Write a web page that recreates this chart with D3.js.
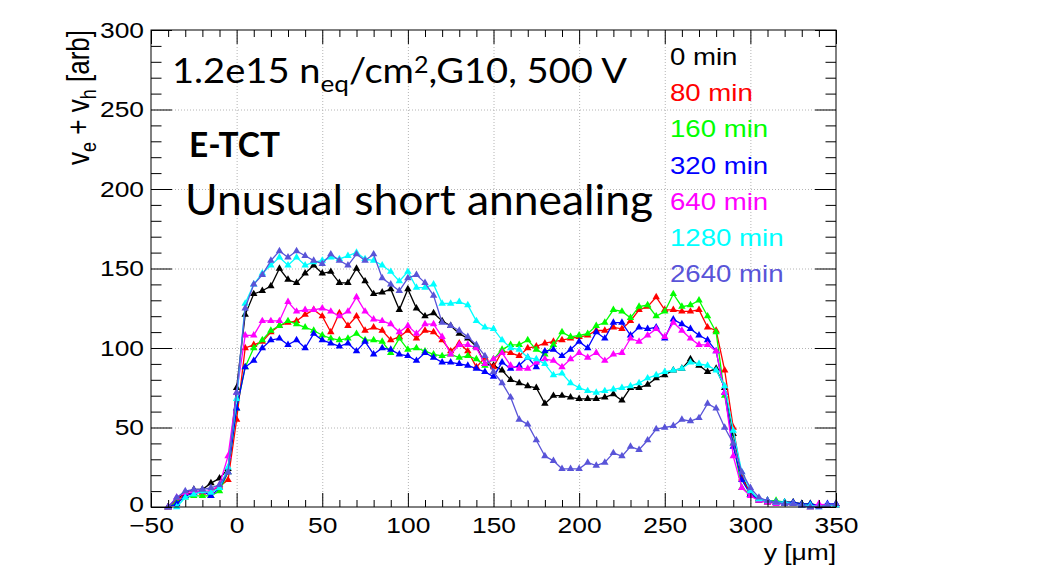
<!DOCTYPE html>
<html>
<head>
<meta charset="UTF-8">
<style>
body{
	margin: 0;
	background: #fff;
}
svg{
	display: block;
}
.axis path{
	display: none;
}
.axis line{
	stroke: #000;
	stroke-width: 1;
}
.axis text{
	font-family: "Liberation Sans", Arial, sans-serif;
	font-size: 22px;
	fill: #000;
}
.grid path{
	display: none;
}
.grid line{
	stroke: #b4b4b4;
	stroke-width: 1;
	stroke-dasharray: 1,2;
}
.frame{
	fill: none;
	stroke: #000;
	stroke-width: 1;
}
.curve{
	fill: none;
	stroke-width: 1.3;
}
.legend text, .axis-title{
	font-family: "Liberation Sans", Arial, sans-serif;
}
.note{
	font-family: Lato, "Open Sans", sans-serif;
	fill: #000;
}
</style>
<script src="https://d3js.org/d3.v7.min.js"></script>
</head>
<body>
<script>
// scan positions in um
var yPos = [-40,-35,-30,-25,-20,-15,-10,-5,
	0,5,10,15,20,25,30,35,40,45,
	50,55,60,65,70,75,80,85,90,95,
	100,105,110,115,120,125,130,135,140,145,
	150,155,160,165,170,175,180,185,190,195,
	200,205,210,215,220,225,230,235,240,245,
	250,255,260,265,270,275,280,285,290,295,
	300,305,310,315,320,325,330,335,340,345,350];

var names = ["0 min", "80 min", "160 min", "320 min", "640 min", "1280 min", "2640 min"];
var colors = ["#000000", "#ff0000", "#00ff00", "#0000ff", "#ff00ff", "#00ffff", "#5954d8"];

var v0 = [0,5,9,11,11,15,18,24,
	75,121,134,136,139,150,143,141,147,152,
	147,148,141,141,150,142,134,135,137,124,
	137,125,120,122,117,114,109,106,101,90,
	89,86,80,78,76,75,65,70,70,69,
	68,68,68,69,71,67,75,75,77,81,
	83,86,87,93,89,85,87,75,46,20,
	8,4,3,3,2,2,1,0,1,1,2];
var v80 = [0,4,8,9,9,10,13,17,
	55,100,102,104,110,114,116,117,121,124,
	120,110,122,114,120,111,113,111,105,107,
	111,106,111,110,105,98,103,98,88,94,
	88,98,97,95,100,101,103,104,105,106,
	107,108,111,111,113,112,117,124,126,132,
	124,124,123,123,124,113,111,86,50,18,
	9,5,4,3,3,3,2,2,1,1,1];
var v160 = [0,3,6,7,7,7,10,22,
	62,88,100,105,111,114,117,115,113,111,
	108,106,105,106,109,105,105,104,97,106,
	99,100,98,96,95,96,94,95,93,89,
	93,99,102,102,105,99,96,102,110,107,
	108,109,114,116,124,123,119,126,127,120,
	123,134,126,127,130,120,110,70,40,12,
	8,5,4,4,3,3,2,2,1,1,1];
var v320 = [0,2,7,9,10,7,12,22,
	62,88,92,100,105,106,102,105,100,109,
	105,103,101,103,98,104,96,100,99,96,
	95,92,97,94,91,91,90,89,87,85,
	82,91,87,89,94,88,98,99,95,99,
	104,100,110,106,116,116,108,113,112,113,
	106,118,115,112,108,105,98,72,38,17,
	8,5,4,3,3,3,2,2,1,2,2];
var v640 = [0,6,9,10,10,10,14,32,
	72,108,108,117,117,117,129,123,124,124,
	125,123,120,123,132,123,118,117,115,110,
	114,109,115,115,107,96,102,102,100,90,
	93,97,89,87,87,91,93,92,88,93,
	97,94,97,92,96,97,106,104,108,112,
	107,116,111,106,102,102,98,72,32,12,
	7,4,3,2,2,2,1,0,2,1,1];
var v1280 = [null,0,6,8,10,9,12,25,
	68,128,140,147,152,157,152,157,152,154,
	155,157,156,158,160,156,155,152,148,142,
	148,138,138,140,128,128,129,127,117,113,
	112,105,100,99,94,93,90,83,84,78,
	75,73,72,73,74,75,76,78,81,83,
	85,86,87,91,90,89,86,76,48,22,
	10,5,4,3,3,2,1,1,0,1,1];
var v2640 = [0,6,10,11,11,12,14,22,
	72,125,140,146,155,161,157,161,158,155,
	153,159,155,152,159,155,159,144,140,136,
	144,146,141,133,116,114,111,107,102,95,
	85,78,69,55,52,42,32,29,24,24,
	24,28,26,28,34,32,38,36,42,49,
	50,51,55,54,56,65,62,50,40,22,
	12,6,4,3,2,2,1,0,0,1,2];

var xTicks = [-50, 0, 50, 100, 150, 200, 250, 300, 350];
var yTicks = [0, 50, 100, 150, 200, 250, 300];

var seriesValues = [v0, v80, v160, v320, v640, v1280, v2640];

var margin = {top: 30, right: 209, bottom: 68, left: 151};
var width = 1045 - margin.left - margin.right,
	height = 575 - margin.top - margin.bottom;
var stretch = 1.2;   // the ROOT canvas is widened in the slide

var x = d3.scaleLinear().domain([-50, 350]).range([0, width]);
var y = d3.scaleLinear().domain([0, 300]).range([height, 0]);

var xMinor = d3.range(-50, 351, 10).filter(function(d){ return d % 50 !== 0; });
var yMinor = d3.range(0, 301, 10).filter(function(d){ return d % 50 !== 0; });

var root = d3.select("body").append("svg")
	.attr("width", 1045)
	.attr("height", 575);

var svg = root.append("g")
	.attr("transform", "translate(" + margin.left + "," + margin.top + ")");

// grid
svg.append("g")
	.attr("class", "grid")
	.attr("transform", "translate(0," + height + ")")
	.call(d3.axisBottom(x).tickValues(xTicks.slice(1, -1)).tickSize(-height).tickFormat(""));
svg.append("g")
	.attr("class", "grid")
	.call(d3.axisLeft(y).tickValues(yTicks.slice(1, -1)).tickSize(-width).tickFormat(""));

// curves
var line = d3.line()
	.defined(function(d){ return d[1] !== null; })
	.x(function(d){ return x(d[0]); })
	.y(function(d){ return y(d[1]); });

var tri = d3.symbol().type(d3.symbolTriangle).size(24);

seriesValues.forEach(function(vals, i){
	var pts = yPos.map(function(p, j){ return [p, vals[j]]; });
	var g = svg.append("g");
	g.append("path")
		.datum(pts)
		.attr("class", "curve")
		.attr("stroke", colors[i])
		.attr("d", line);
	g.selectAll("path.mk")
		.data(pts.filter(function(d){ return d[1] !== null; }))
		.enter().append("path")
		.attr("class", "mk")
		.attr("fill", colors[i])
		.attr("transform", function(d){ return "translate(" + x(d[0]) + "," + y(d[1]) + ")"; })
		.attr("d", tri);
});

// frame and ticks
svg.append("rect")
	.attr("class", "frame")
	.attr("width", width)
	.attr("height", height);

var xAxis = svg.append("g")
	.attr("class", "axis")
	.attr("transform", "translate(0," + height + ")")
	.call(d3.axisBottom(x).tickValues(xTicks).tickSize(-14).tickPadding(10));
xAxis.selectAll("text")
	.attr("transform", "scale(" + stretch + ",1)");

svg.append("g")
	.attr("class", "axis")
	.attr("transform", "translate(0," + height + ")")
	.call(d3.axisBottom(x).tickValues(xMinor).tickSize(-7).tickFormat(""));

svg.append("g")
	.attr("class", "axis")
	.call(d3.axisTop(x).tickValues(xTicks).tickSize(-14).tickFormat(""));
svg.append("g")
	.attr("class", "axis")
	.call(d3.axisTop(x).tickValues(xMinor).tickSize(-7).tickFormat(""));

var yAxis = svg.append("g")
	.attr("class", "axis")
	.call(d3.axisLeft(y).tickValues(yTicks).tickSize(-21).tickPadding(7));
yAxis.selectAll("text")
	.attr("x", -7 / stretch)
	.attr("dy", function(d){ return d === 0 ? "0.2em" : "0.32em"; })
	.attr("transform", "scale(" + stretch + ",1)");

svg.append("g")
	.attr("class", "axis")
	.call(d3.axisLeft(y).tickValues(yMinor).tickSize(-10.5).tickFormat(""));

svg.append("g")
	.attr("class", "axis")
	.attr("transform", "translate(" + width + ",0)")
	.call(d3.axisRight(y).tickValues(yTicks).tickSize(-21).tickFormat(""));
svg.append("g")
	.attr("class", "axis")
	.attr("transform", "translate(" + width + ",0)")
	.call(d3.axisRight(y).tickValues(yMinor).tickSize(-10.5).tickFormat(""));

// axis titles
var yTitle = root.append("text")
	.attr("class", "axis-title")
	.attr("font-size", 26)
	.attr("text-anchor", "end")
	.attr("transform", "translate(89,30) scale(" + stretch + ",1) rotate(-90)");
yTitle.append("tspan").text("v");
yTitle.append("tspan").attr("font-size", 18).attr("dy", 6).text("e");
yTitle.append("tspan").attr("dy", -6).text(" + v");
yTitle.append("tspan").attr("font-size", 18).attr("dy", 6).text("h");
yTitle.append("tspan").attr("dy", -6).text(" [arb]");

root.append("text")
	.attr("class", "axis-title")
	.attr("font-size", 22)
	.attr("text-anchor", "end")
	.attr("transform", "translate(836,560) scale(" + stretch + ",1)")
	.text("y [\u03bcm]");

// legend
var legend = root.append("g").attr("class", "legend");
names.forEach(function(n, i){
	legend.append("text")
		.attr("transform", "translate(670," + (65 + i * 36.2) + ") scale(" + stretch + ",1)")
		.attr("font-size", 23)
		.attr("fill", colors[i])
		.text(n);
});

// slide annotations
var t1 = root.append("text")
	.attr("class", "note")
	.attr("x", 172)
	.attr("y", 83)
	.attr("font-size", 35)
	.attr("textLength", 455)
	.attr("lengthAdjust", "spacingAndGlyphs");
t1.append("tspan").text("1.2e15 n");
t1.append("tspan").attr("font-size", 24).attr("dy", 9).text("eq");
t1.append("tspan").attr("dy", -9).text("/cm");
t1.append("tspan").attr("font-size", 23).attr("dy", -10).text("2");
t1.append("tspan").attr("dy", 10).text(",G10, 500 V");

root.append("text")
	.attr("class", "note")
	.attr("x", 189)
	.attr("y", 157)
	.attr("font-size", 34)
	.attr("font-weight", "bold")
	.attr("textLength", 91)
	.attr("lengthAdjust", "spacingAndGlyphs")
	.text("E-TCT");

root.append("text")
	.attr("class", "note")
	.attr("x", 185)
	.attr("y", 215)
	.attr("font-size", 42)
	.attr("textLength", 468)
	.attr("lengthAdjust", "spacingAndGlyphs")
	.text("Unusual short annealing");
</script>
</body>
</html>
